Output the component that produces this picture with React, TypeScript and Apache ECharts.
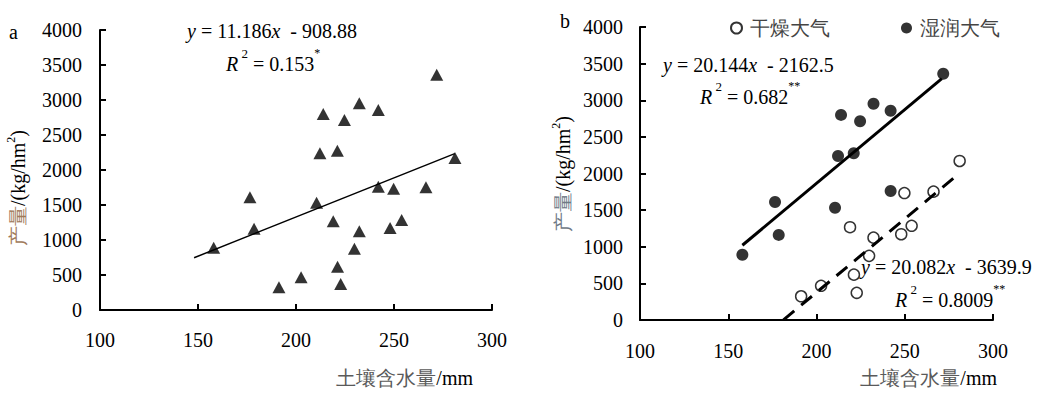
import React, { useEffect, useRef } from "react";
import * as echarts from "echarts";

// ---- data ----
const dryX = [191.3, 202.6, 219.0, 221.2, 222.8, 229.8, 232.3, 248.0, 249.8, 253.9, 266.3, 281.1];
const dryY = [324, 467, 1267, 619, 371, 876, 1124, 1171, 1733, 1286, 1752, 2171];
const wetX = [158.0, 176.5, 178.6, 210.5, 212.2, 213.9, 221.1, 224.7, 232.3, 242.0, 242.0, 271.8];
const wetY = [890, 1610, 1162, 1533, 2238, 2800, 2276, 2714, 2952, 2857, 1762, 3362];

// regression lines: [slope, intercept], x-range
const fitAll = [11.186, -908.88];
const fitAllRange = [148, 281];
const fitWet = [20.144, -2162.5];
const fitWetRange = [158, 271];
const fitDry = [20.082, -3639.9];
const fitDryRange = [181.3, 281];

const xTicks = { min: 100, max: 300, interval: 50 };
const yTicks = { min: 0, max: 4000, interval: 500 };

const legendNames = ["干燥大气", "湿润大气"];

const FONT = "Liberation Serif";

const pts = (xs: number[], ys: number[]) => xs.map((x, i) => [x, ys[i]]);
const fitLine = (f: number[], r: number[]) => r.map((x) => [x, f[0] * x + f[1]]);

const eqRich = {
  n: { fontSize: 20, fontFamily: FONT, fill: "#000", lineHeight: 34 },
  i: { fontSize: 20, fontFamily: FONT, fill: "#000", fontStyle: "italic", lineHeight: 34 },
  s: { fontSize: 13, fontFamily: FONT, fill: "#000", lineHeight: 13, verticalAlign: "top" },
  st: { fontSize: 12, fontFamily: FONT, fill: "#000", lineHeight: 12, verticalAlign: "top" },
};

const eqText = (x: number, y: number, text: string) => ({
  type: "text",
  x,
  y,
  z: 100,
  style: { text, rich: eqRich, align: "left", verticalAlign: "middle" },
});

const yNameText = (x: number, y: number, cjkColor: string) => ({
  type: "text",
  x,
  y,
  rotation: Math.PI / 2,
  style: {
    text: "{c|产量}{n|/(kg/hm}{s|2}{n|)}",
    align: "center",
    verticalAlign: "middle",
    rich: {
      c: { fontSize: 20, fontFamily: FONT, fill: cjkColor, lineHeight: 26 },
      n: { fontSize: 20, fontFamily: FONT, fill: "#000", lineHeight: 26 },
      s: { fontSize: 12, fontFamily: FONT, fill: "#000", lineHeight: 12, verticalAlign: "top" },
    },
  },
});

const xNameText = (x: number, y: number) => ({
  type: "text",
  x,
  y,
  style: {
    text: "{c|土壤含水量}{n|/mm}",
    align: "right",
    verticalAlign: "middle",
    rich: {
      c: { fontSize: 20, fontFamily: FONT, fill: "#5a5a5a" },
      n: { fontSize: 20, fontFamily: FONT, fill: "#000" },
    },
  },
});

const plain = (v: number) => String(v);

const makeX = (gridIndex: number, margin: number) => ({
  gridIndex,
  type: "value",
  ...xTicks,
  axisLine: { show: true, onZero: false, lineStyle: { color: "#000", width: 2 } },
  axisTick: { show: true, inside: true, length: 6, lineStyle: { color: "#000", width: 2 } },
  axisLabel: { color: "#000", fontSize: 20, fontFamily: FONT, margin, formatter: plain },
  splitLine: { show: false },
});

const makeY = (gridIndex: number, margin: number) => ({
  gridIndex,
  type: "value",
  ...yTicks,
  axisLine: { show: true, onZero: false, lineStyle: { color: "#000", width: 2 } },
  axisTick: { show: true, inside: true, length: 6, lineStyle: { color: "#000", width: 2 } },
  axisLabel: { color: "#000", fontSize: 20, fontFamily: FONT, margin, formatter: plain },
  splitLine: { show: false },
});

export default function App() {
  const ref = useRef<HTMLDivElement>(null);

  useEffect(() => {
    if (!ref.current) return;
    const chart = echarts.init(ref.current, undefined, { renderer: "svg" });
    const option = {
      animation: false,
      backgroundColor: "#fff",
      textStyle: { fontFamily: FONT },
      grid: [
        { left: 100, top: 30, width: 392, height: 280 },
        { left: 640, top: 27, width: 353, height: 293 },
      ],
      xAxis: [makeX(0, 20), makeX(1, 21)],
      yAxis: [makeY(0, 18), makeY(1, 17)],
      legend: {
        data: legendNames,
        left: 725,
        top: 13,
        itemWidth: 11,
        itemHeight: 11,
        itemGap: 71,
        textStyle: { fontSize: 20, color: "#444", fontFamily: FONT, padding: [0, 0, 0, 3] },
      },
      series: [
        {
          name: "all",
          type: "line",
          xAxisIndex: 0,
          yAxisIndex: 0,
          data: fitLine(fitAll, fitAllRange),
          symbol: "none",
          lineStyle: { color: "#000", width: 1.5 },
          z: 2,
        },
        {
          name: "all points",
          type: "scatter",
          xAxisIndex: 0,
          yAxisIndex: 0,
          symbol: "triangle",
          symbolSize: [13, 12],
          itemStyle: { color: "#000" },
          data: [...pts(wetX, wetY), ...pts(dryX, dryY)],
          z: 3,
        },
        {
          name: legendNames[0],
          type: "scatter",
          xAxisIndex: 1,
          yAxisIndex: 1,
          symbol: "circle",
          symbolSize: 11,
          itemStyle: { color: "rgba(255,255,255,0)", borderColor: "#000", borderWidth: 1.5 },
          data: pts(dryX, dryY),
          z: 3,
        },
        {
          name: legendNames[1],
          type: "scatter",
          xAxisIndex: 1,
          yAxisIndex: 1,
          symbol: "circle",
          symbolSize: 12,
          itemStyle: { color: "#000" },
          data: pts(wetX, wetY),
          z: 3,
        },
        {
          name: "wet fit",
          type: "line",
          xAxisIndex: 1,
          yAxisIndex: 1,
          data: fitLine(fitWet, fitWetRange),
          symbol: "none",
          lineStyle: { color: "#000", width: 3 },
          z: 2,
        },
        {
          name: "dry fit",
          type: "line",
          xAxisIndex: 1,
          yAxisIndex: 1,
          data: fitLine(fitDry, fitDryRange),
          symbol: "none",
          lineStyle: { color: "#000", width: 3, type: [14, 9] },
          z: 4,
        },
      ],
      graphic: [
        { type: "text", x: 9, y: 32, style: { text: "a", fontSize: 20, fontFamily: FONT, fill: "#000", verticalAlign: "middle" } },
        { type: "text", x: 560, y: 21, style: { text: "b", fontSize: 20, fontFamily: FONT, fill: "#000", verticalAlign: "middle" } },
        eqText(187, 31, "{i|y}{n| = 11.186}{i|x}{n|  - 908.88}"),
        eqText(226, 64, "{i|R}{s| 2}{n| = 0.153}{st|*}"),
        eqText(663, 65, "{i|y}{n| = 20.144}{i|x}{n|  - 2162.5}"),
        eqText(700, 97, "{i|R}{s| 2}{n| = 0.682}{st|**}"),
        eqText(861, 267, "{i|y}{n| = 20.082}{i|x}{n|  - 3639.9}"),
        eqText(895, 300, "{i|R}{s| 2}{n| = 0.8009}{st|**}"),
        yNameText(18, 188, "#a07a5a"),
        yNameText(563, 174, "#6f7a86"),
        xNameText(473, 378),
        xNameText(997, 378),
      ],
    };
    chart.setOption(option as any);
    return () => chart.dispose();
  }, []);

  return (
    <div
      ref={ref}
      style={{ position: "absolute", left: 0, top: 0, width: 1063, height: 398, background: "#fff" }}
    />
  );
}
